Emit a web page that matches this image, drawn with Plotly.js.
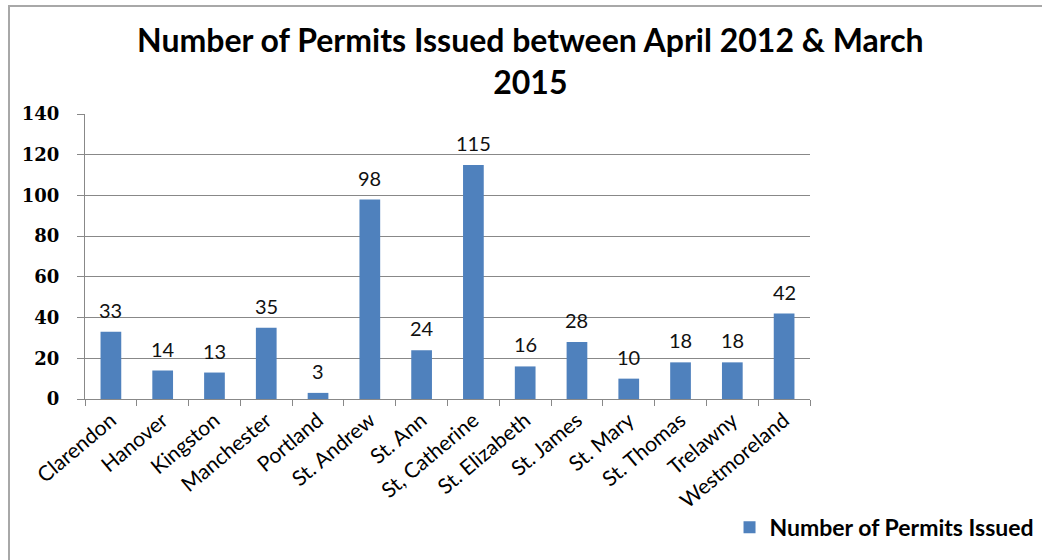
<!DOCTYPE html>
<html>
<head>
<meta charset="utf-8">
<script src="https://cdn.plot.ly/plotly-3.0.1.min.js"></script>
<style>
html,body{margin:0;padding:0;background:#fff;}
#wrap{position:relative;width:1042px;height:560px;overflow:hidden;}
#chart{width:1042px;height:560px;}
#frame{position:absolute;left:8px;top:5px;width:1100px;height:600px;border-left:2px solid #a8a8a8;border-top:2px solid #a8a8a8;pointer-events:none;}
</style>
</head>
<body>
<div id="wrap"><div id="chart"></div><div id="frame"></div></div>
<script>
const categories = ["Clarendon","Hanover","Kingston","Manchester","Portland","St. Andrew","St. Ann","St, Catherine","St. Elizabeth","St. James","St. Mary","St. Thomas","Trelawny","Westmoreland"];
const permits = [33,14,13,35,3,98,24,115,16,28,10,18,18,42];
const yTicks = [0,20,40,60,80,100,120,140];
const seriesName = "Number of Permits Issued";
const chartTitle = "Number of Permits Issued between April 2012 & March<br>2015";

const sans = 'Lato, "Open Sans", sans-serif';

const trace = {
  type: 'bar',
  x: categories,
  y: permits,
  name: seriesName,
  marker: {color: '#4F81BD'},
  hoverinfo: 'x+y'
};

const labels = categories.map((c, i) => ({
  x: c, y: permits[i], xref: 'x', yref: 'y',
  text: String(permits[i]), showarrow: false,
  yanchor: 'middle', yshift: 22,
  font: {family: sans, size: 20, color: '#111'}
}));

const layout = {
  width: 1042, height: 560,
  margin: {l: 85, r: 232, t: 114, b: 161, autoexpand: false},
  paper_bgcolor: '#fff', plot_bgcolor: '#fff',
  bargap: 0.6,
  showlegend: true,
  annotations: labels,
  title: {
    text: chartTitle,
    font: {family: sans, size: 32, color: '#000', weight: 'bold'},
    x: 0.509, xanchor: 'center', xref: 'container',
    y: 1 - 52/560, yanchor: 'middle', yref: 'container',
    automargin: false
  },
  xaxis: {
    type: 'category',
    automargin: false,
    tickangle: -40,
    tickson: 'boundaries',
    ticks: 'outside', ticklen: 6, tickcolor: '#888',
    showline: true, linecolor: '#888', linewidth: 1,
    showgrid: false,
    tickfont: {family: sans, size: 21, color: '#000'}
  },
  yaxis: {
    range: [0, 140],
    automargin: false,
    tickvals: yTicks,
    ticktext: yTicks.map(String),
    ticks: 'outside', ticklen: 7, tickcolor: '#888',
    showline: true, linecolor: '#888', linewidth: 1,
    showgrid: true, gridcolor: '#888', gridwidth: 1,
    zeroline: false,
    ticklabelstandoff: 14,
    tickfont: {family: '"DejaVu Serif", "Liberation Serif", serif', size: 18, color: '#000', weight: 'bold'}
  },
  legend: {
    x: 0.889, xanchor: 'left', y: -0.45, yanchor: 'middle',
    font: {family: sans, size: 23, color: '#000', weight: 'bold'},
    itemwidth: 30, bgcolor: 'rgba(0,0,0,0)'
  }
};

Plotly.newPlot('chart', [trace], layout, {displayModeBar: false, staticPlot: true});
</script>
</body>
</html>
